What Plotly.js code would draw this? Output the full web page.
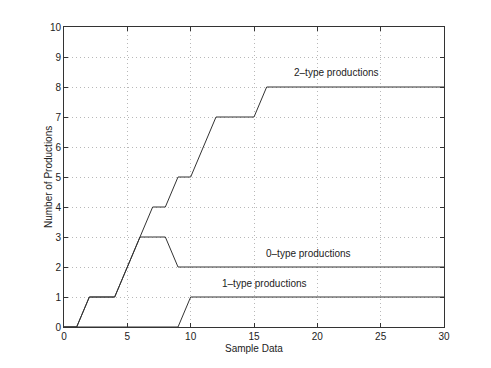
<!DOCTYPE html>
<html>
<head>
<meta charset="utf-8">
<script src="https://cdn.plot.ly/plotly-3.0.1.min.js"></script>
<style>
  html, body { margin: 0; padding: 0; background: #fff; }
  #chart { width: 491px; height: 368px; }
</style>
</head>
<body>
<div id="chart"></div>
<script>
// ── Data ──────────────────────────────────────────────────────
const sampleX   = [0, 1, 2, 3, 4, 5, 6, 7, 8, 9, 10, 11, 12, 13, 14, 15, 16, 17, 18, 19, 20, 21, 22, 23, 24, 25, 26, 27, 28, 29, 30];
const type2Prod = [0, 0, 1, 1, 1, 2, 3, 4, 4, 5, 5, 6, 7, 7, 7, 7, 8, 8, 8, 8, 8, 8, 8, 8, 8, 8, 8, 8, 8, 8, 8];
const type0Prod = [0, 0, 1, 1, 1, 2, 3, 3, 3, 2, 2, 2, 2, 2, 2, 2, 2, 2, 2, 2, 2, 2, 2, 2, 2, 2, 2, 2, 2, 2, 2];
const type1Prod = [0, 0, 0, 0, 0, 0, 0, 0, 0, 0, 1, 1, 1, 1, 1, 1, 1, 1, 1, 1, 1, 1, 1, 1, 1, 1, 1, 1, 1, 1, 1];

const labelText = ["2–type productions", "0–type productions", "1–type productions"];
const labelX    = [21.5, 19.3, 15.8];
const labelY    = [8.5, 2.45, 1.45];

const LINE_COLOR = "#333";
const TEXT_COLOR = "#222";
const FONT = "Liberation Sans, Arial, Helvetica, sans-serif";

const line = (y, name) => ({
  name,
  x: sampleX,
  y,
  type: "scatter",
  mode: "lines",
  line: { color: LINE_COLOR, width: 1 },
  hoverinfo: "x+y",
});

const traces = [
  line(type2Prod, "2-type"),
  line(type0Prod, "0-type"),
  line(type1Prod, "1-type"),
];

const axisCommon = {
  showline: true,
  linecolor: "#333",
  linewidth: 1,
  mirror: "ticks",
  ticks: "inside",
  ticklen: 4,
  tickcolor: "#333",
  showgrid: true,
  gridcolor: "#b8b8b8",
  griddash: "1px,3px",
  gridwidth: 1,
  zeroline: false,
  tickfont: { family: FONT, size: 10, color: TEXT_COLOR },
};

// axis titles placed as annotations to match the original spacing
const titleNotes = [
  { text: "Sample Data", x: 0.5, y: -0.072, textangle: 0 },
  { text: "Number of Productions", x: -0.042, y: 0.5, textangle: -90 },
].map(a => Object.assign({
  xref: "paper",
  yref: "paper",
  showarrow: false,
  xanchor: "center",
  yanchor: "middle",
  font: { family: FONT, size: 10, color: TEXT_COLOR },
}, a));

const layout = {
  width: 491,
  height: 368,
  margin: { l: 64, r: 47, t: 27, b: 41 },
  paper_bgcolor: "#fff",
  plot_bgcolor: "#fff",
  showlegend: false,
  font: { family: FONT, size: 10, color: TEXT_COLOR },
  xaxis: Object.assign({}, axisCommon, { range: [0, 30], tick0: 0, dtick: 5, ticklabelstandoff: 0 }),
  yaxis: Object.assign({}, axisCommon, { range: [0, 10], tick0: 0, dtick: 1 }),
  annotations: labelText.map((t, i) => ({
    text: t,
    x: labelX[i],
    y: labelY[i],
    xref: "x",
    yref: "y",
    showarrow: false,
    font: { family: FONT, size: 10, color: TEXT_COLOR },
  })).concat(titleNotes),
};

Plotly.newPlot("chart", traces, layout, { staticPlot: true, displayModeBar: false });
</script>
</body>
</html>
